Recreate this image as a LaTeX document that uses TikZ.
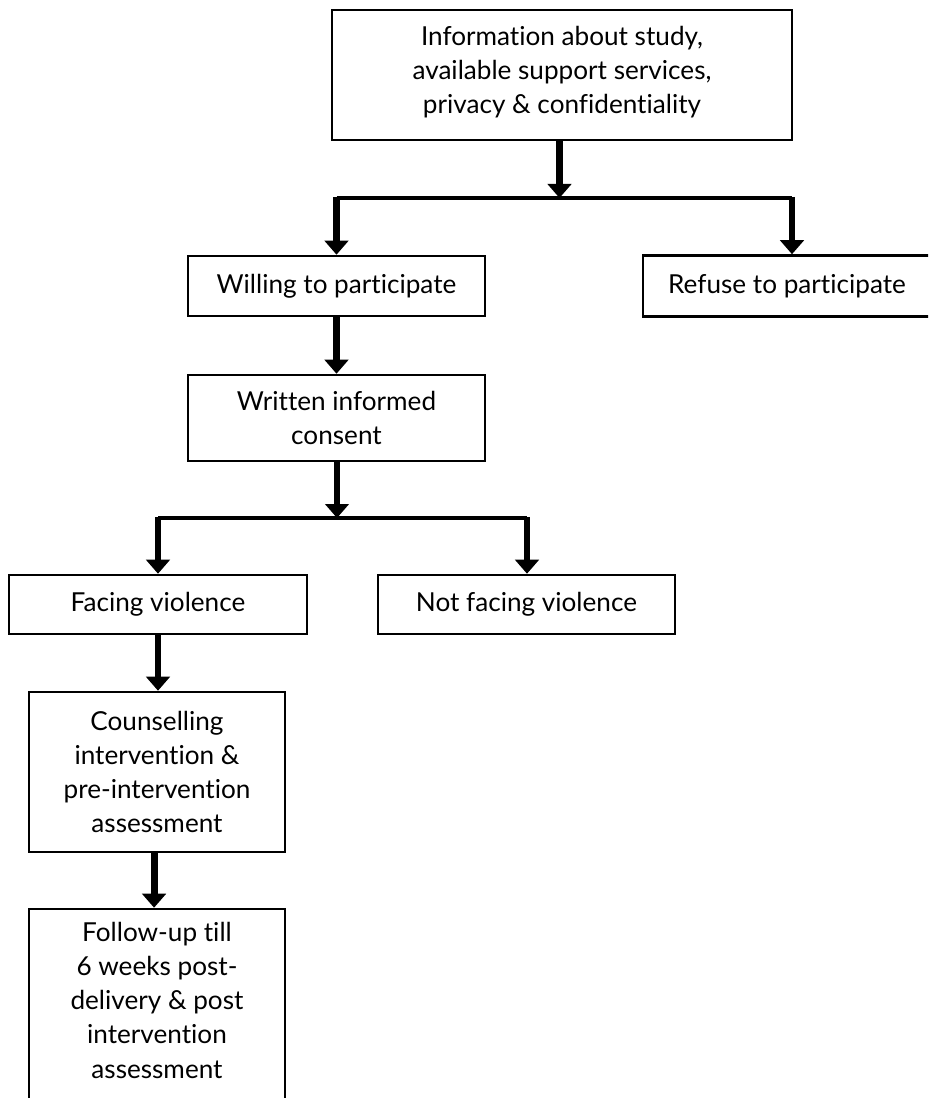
\documentclass[tikz,border=0pt]{standalone}
\usepackage{fontspec}
\setmainfont{Lato}[Ligatures={NoCommon}]
\usetikzlibrary{arrows.meta}

\tikzset{
  flowbox/.style={draw, line width=1.9pt, inner sep=0pt, align=center,
    font=\fontsize{19.6}{25.7}\selectfont},
  flowarrow/.style={line width=5.2pt,
    -{Triangle[width=17.5pt,length=10.5pt]}},
  branchline/.style={line width=2.4pt},
}
% extra depth under the last line of a box text, lifting the text block
\newcommand{\liftby}[1]{\rule[-#1]{0pt}{0pt}}

\begin{document}
\begin{tikzpicture}[x=0.75pt, y=-0.75pt]
  \useasboundingbox (0,0) rectangle (928,1098);
  \clip (0,0) rectangle (928,1098);

  % boxes (positions in pixels, y grows downwards)
  \node[flowbox, minimum width={460*0.75pt}, minimum height={130*0.75pt}] (info) at (562,75)
    {Information about study,\\available support services,\\privacy \& confidentiality\liftby{8pt}};
  \node[flowbox, minimum width={297*0.75pt}, minimum height={60*0.75pt}] (willing) at (336.5,286)
    {Willing to participate};
  \node[flowbox, minimum width={288*0.75pt}, minimum height={61*0.75pt}] (refuse) at (787,286)
    {Refuse to participate};
  \node[flowbox, minimum width={297*0.75pt}, minimum height={86*0.75pt}] (consent) at (336.5,418)
    {Written informed\\consent};
  \node[flowbox, minimum width={298*0.75pt}, minimum height={59*0.75pt}] (facing) at (158,604.5)
    {Facing violence};
  \node[flowbox, minimum width={297*0.75pt}, minimum height={59*0.75pt}] (notfacing) at (526.5,604.5)
    {Not facing violence};
  \node[flowbox, minimum width={256*0.75pt}, minimum height={160*0.75pt}] (counsel) at (157,772)
    {Counselling\\intervention \&\\pre-intervention\\assessment};
  \node[flowbox, minimum width={256*0.75pt}, minimum height={206*0.75pt}] (followup) at (157,1012)
    {Follow-up till\\6 weeks post-\\delivery \& post\\intervention\\assessment\liftby{18pt}};

  % junction points of the two splits
  \coordinate (splitA) at (559.5,198);
  \coordinate (splitAL) at (336.5,198);
  \coordinate (splitAR) at (792,198);
  \coordinate (splitB) at (337,518);
  \coordinate (splitBL) at (158,518);
  \coordinate (splitBR) at (527,518);

  % first split
  \draw[flowarrow] (info.south -| splitA) -- (splitA);
  \draw[branchline] (splitAL) -- (splitAR);
  \draw[flowarrow] ([yshift=0.9pt]splitAL) -- (willing.north -| splitAL);
  \draw[flowarrow] ([yshift=0.9pt]splitAR) -- (refuse.north -| splitAR);

  \draw[flowarrow] (willing.south) -- (consent.north);

  % second split
  \draw[flowarrow] (consent.south -| splitB) -- (splitB);
  \draw[branchline] (splitBL) -- (splitBR);
  \draw[flowarrow] ([yshift=0.9pt]splitBL) -- (facing.north -| splitBL);
  \draw[flowarrow] ([yshift=0.9pt]splitBR) -- (notfacing.north -| splitBR);

  \draw[flowarrow] (facing.south -| splitBL) -- (counsel.north -| splitBL);
  \draw[flowarrow] ([xshift=-2.2pt]counsel.south) -- ([xshift=-2.2pt]followup.north);
\end{tikzpicture}
\end{document}
